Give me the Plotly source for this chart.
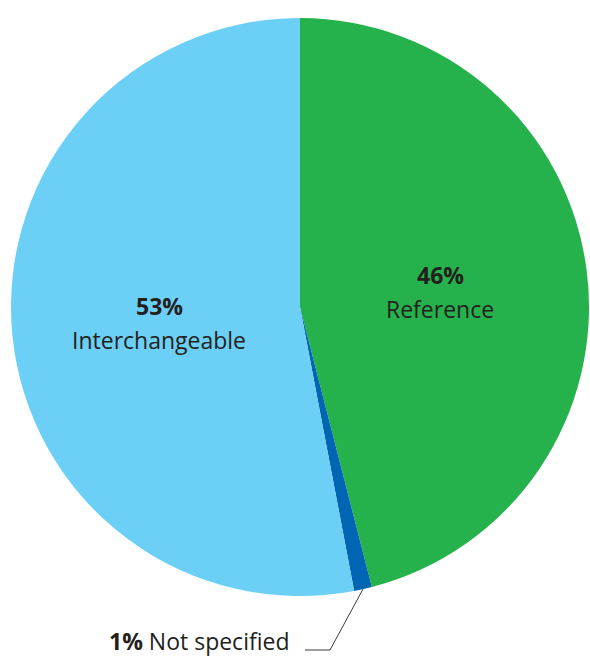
import math
import plotly.graph_objects as go

labels = ["Reference", "Not specified", "Interchangeable"]
values = [46, 1, 53]
colors = ["#25B24C", "#0066B3", "#6BCFF6"]
text_color = "#231F20"

W, H = 590, 659
CX, CY, R = 300, 307, 289  # pixel center/radius of pie

def px(x):
    return x / W

def py(y):
    return 1 - y / H

fig = go.Figure()
fig.add_trace(go.Pie(
    labels=labels, values=values, sort=False, direction="clockwise", rotation=0,
    marker=dict(colors=colors, line=dict(width=0)),
    textinfo="none", hoverinfo="label+percent", showlegend=False,
    domain=dict(x=[px(CX - R), px(CX + R)], y=[py(CY + R), py(CY - R)]),
))

total = sum(values)
cum = 0
annotations = []
shapes = []
font_name = "Open Sans"
FS = 23
for lab, v in zip(labels, values):
    start = cum / total * 360
    cum += v
    mid = (start + v / total * 180)
    pct = round(v / total * 100)
    a = math.radians(mid)
    if v / total > 0.05:
        r = 0.49 * R
        x = CX + r * math.sin(a)
        y = CY - r * math.cos(a) + 3
        annotations.append(dict(
            x=px(x), y=py(y - 17), xref="paper", yref="paper", showarrow=False,
            text=f"<b>{pct}%</b>",
            font=dict(family=font_name, size=FS, color=text_color),
            xanchor="center", yanchor="middle",
        ))
        annotations.append(dict(
            x=px(x), y=py(y + 17), xref="paper", yref="paper", showarrow=False,
            text=lab,
            font=dict(family=font_name, size=FS, color=text_color),
            xanchor="center", yanchor="middle",
        ))
    else:
        x0 = CX + R * math.sin(a)
        y0 = CY - R * math.cos(a)
        x1, y1 = 330, 650
        x2 = 305
        shapes.append(dict(type="path", xref="paper", yref="paper",
                           path=f"M {px(x0)},{py(y0)} L {px(x1)},{py(y1)} L {px(x2)},{py(y1)}",
                           line=dict(color="#3a3a3a", width=1)))
        annotations.append(dict(
            x=px(291), y=0, xref="paper", yref="paper", showarrow=False,
            text=f"<b>{pct}%</b> {lab}",
            font=dict(family=font_name, size=FS, color=text_color),
            xanchor="right", yanchor="bottom",
        ))

fig.update_layout(
    width=W, height=H, margin=dict(l=0, r=0, t=0, b=0),
    paper_bgcolor="white", plot_bgcolor="white",
    annotations=annotations, shapes=shapes,
)
fig.write_html("out.html")
